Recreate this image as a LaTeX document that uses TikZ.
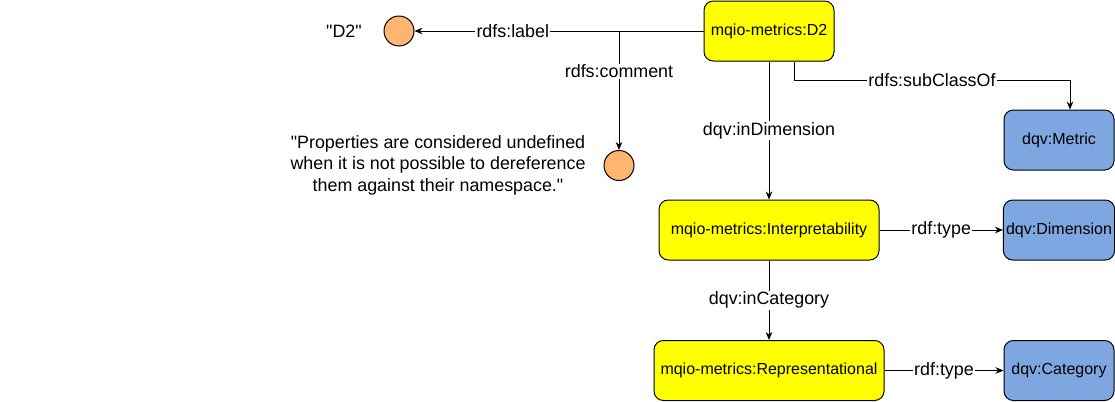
\documentclass[tikz,border=0pt]{standalone}
\usepackage{fontspec}
\setmainfont{Liberation Sans}
\usetikzlibrary{arrows.meta,positioning}
\definecolor{termyellow}{HTML}{FFFF00}
\definecolor{classblue}{HTML}{7EA6E0}
\definecolor{literalorange}{HTML}{FFB570}
\newcommand{\qq}{\textquotedbl}
\tikzset{
  resbox/.style={draw=black,fill=termyellow,line width=0.75pt,rounded corners=7pt,
                 minimum height=45pt,inner sep=2pt,align=center,
                 font=\fontsize{12}{14}\selectfont},
  classbox/.style={resbox,fill=classblue,minimum width=82.5pt},
  literal/.style={draw=black,fill=literalorange,line width=0.75pt,circle,
                  inner sep=0pt,minimum size=22.5pt},
  proparr/.style={-{Stealth[length=6pt,width=5pt]},line width=0.75pt},
  proplabel/.style={fill=white,inner sep=1pt,font=\fontsize{13.4}{16}\selectfont},
  plaintext/.style={align=center,inner sep=0pt,font=\fontsize{13.4}{16.1}\selectfont}
}

\begin{document}
\begin{tikzpicture}[x=0.75pt,y=-0.75pt]
      \useasboundingbox (0,0) rectangle (1115,401);

      % metric and its classes
      \node[resbox,minimum width=97.5pt]  (d2)     at (769,31)    {mqio-metrics:D2};
      \node[resbox,minimum width=165pt]   (interp) at (769,230)   {mqio-metrics:Interpretability};
      \node[resbox,minimum width=172.5pt] (repr)   at (769,370.5) {mqio-metrics:Representational};
      \node[classbox] (metric) at (1059,140)   {dqv:Metric};
      \node[classbox] (dim)    at (1059,230)   {dqv:Dimension};
      \node[classbox] (cat)    at (1059,370.5) {dqv:Category};

      % literals
      \node[literal]   (lbl)     at (399,31) {};
      \node[plaintext] (lbltext) at (344,31) {\qq D2\qq};
      \node[literal]   (cmt)     at (619,165.5) {};
      \node[plaintext] (cmttext) at (438,165)
        {\qq Properties are considered undefined\\when it is not possible to dereference\\them against their namespace.\qq};
      \coordinate (fork) at (cmt |- d2.west);

      % properties
      \draw[proparr] (d2.west) -- node[proplabel,pos=0.66] {rdfs:label} (lbl.east);
      \draw[proparr] (d2.west) -- (fork) -- node[proplabel,pos=0.34] {rdfs:comment} (cmt.north);
      \draw[proparr] (d2.south) -- node[proplabel] {dqv:inDimension} (interp.north);
      \draw[proparr] ([xshift=18.75pt]d2.south) -- ++(0,19)
        -| node[proplabel,pos=0.25] {rdfs:subClassOf} ([xshift=8.25pt]metric.north);
      \draw[proparr] (interp.east) -- node[proplabel] {rdf:type} (dim.west);
      \draw[proparr] (interp.south) -- node[proplabel] {dqv:inCategory} (repr.north);
      \draw[proparr] (repr.east) -- node[proplabel] {rdf:type} (cat.west);
    \end{tikzpicture}
\end{document}
